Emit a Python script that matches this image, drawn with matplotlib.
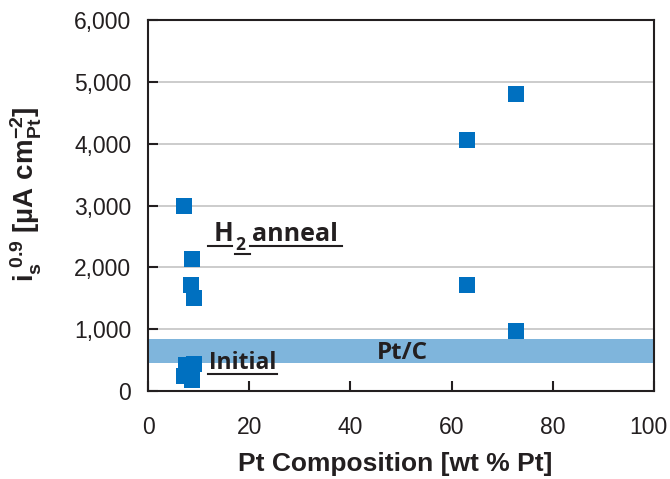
import matplotlib
matplotlib.use("Agg")
import matplotlib.pyplot as plt
from matplotlib.ticker import FuncFormatter
from matplotlib.transforms import ScaledTranslation

# data
h2_x = [7.1, 8.6, 8.4, 9.1, 63.0, 72.8, 63.0, 72.8]
h2_y = [3000, 2135, 1714, 1503, 4065, 4811, 1714, 968]
init_x = [9.1, 7.6, 7.2, 8.6]
init_y = [433, 421, 248, 178]
ptc_lo = 460
ptc_hi = 840

x_ticks = [0, 20, 40, 60, 80, 100]
y_ticks = [0, 1000, 2000, 3000, 4000, 5000, 6000]

plt.rcParams['font.family'] = ['Liberation Sans', 'DejaVu Sans']
plt.rcParams['mathtext.fontset'] = 'custom'
plt.rcParams['mathtext.bf'] = 'Liberation Sans:bold'
plt.rcParams['mathtext.rm'] = 'Liberation Sans:bold'
plt.rcParams['mathtext.default'] = 'bf'

txt = '#231f20'
blue = '#0070c0'

fig = plt.figure(figsize=(6.7, 4.79), dpi=100)
ax = fig.add_axes([0.2209, 0.1837, 0.7552, 0.7745])

ax.axhspan(ptc_lo, ptc_hi, color='#7fb5dc', zorder=1, lw=0)
ax.plot(h2_x, h2_y, 's', color=blue, ms=11, mew=0, zorder=3)
ax.plot(init_x, init_y, 's', color=blue, ms=11, mew=0, zorder=3)

ax.set_xlim(0, 100)
ax.set_ylim(0, 6000)
ax.set_xticks(x_ticks)
ax.set_yticks(y_ticks)
ax.yaxis.set_major_formatter(FuncFormatter(lambda v, p: f'{int(v):,}'))
ax.grid(axis='y', color='#c8c8c8', lw=1.3, zorder=0)
ax.set_axisbelow(True)
for s in ax.spines.values():
    s.set_color(txt)
    s.set_linewidth(1.5)
ax.tick_params(direction='in', length=7, width=1.5, color=txt, labelsize=16.5,
               labelcolor=txt)
ax.tick_params(axis='x', pad=18)
ax.tick_params(axis='y', pad=12)

# pull the "100" label in a little so it stays inside the figure
last = ax.xaxis.get_major_ticks()[-1].label1
last.set_transform(last.get_transform() + ScaledTranslation(-4 / 72, 0, fig.dpi_scale_trans))

ax.set_xlabel('Pt Composition [wt % Pt]', fontsize=19, fontweight='bold', color=txt)
ax.xaxis.set_label_coords(0.488, -0.165)
ax.set_ylabel(r'$i_s^{\ 0.9}$ [µA cm$_{Pt}^{-2}$]', fontsize=20,
              fontweight='bold', color=txt)
ax.yaxis.set_label_coords(-0.205, 0.53)

# annotations
lbl = dict(family=['Open Sans', 'DejaVu Sans'], fontweight='bold', color=txt)
ax.text(13.0, 2421, 'H', fontsize=18.5, **lbl)
ax.text(17.3, 2275, '2', fontsize=12.5, **lbl)
ax.text(20.5, 2421, 'anneal', fontsize=18, **lbl)
ax.plot([11.8, 16.6], [2351, 2351], color=txt, lw=1.5, clip_on=False)
ax.plot([17.2, 20.1], [2221, 2221], color=txt, lw=1.5, clip_on=False)
ax.plot([20.1, 38.3], [2351, 2351], color=txt, lw=1.5, clip_on=False)

ax.text(12.0, 357, 'Initial', fontsize=16.5, zorder=4, **lbl)
ax.plot([11.8, 25.4], [276, 276], color=txt, lw=1.5, zorder=4)

ax.text(50.3, 616, 'Pt/C', fontsize=17.5, ha='center', va='center', zorder=4, **lbl)

fig.savefig('out.png', dpi=100)
